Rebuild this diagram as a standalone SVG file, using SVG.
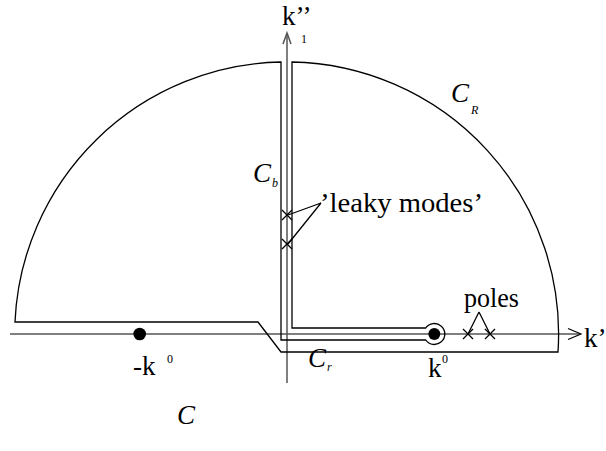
<svg xmlns="http://www.w3.org/2000/svg" width="606" height="451" viewBox="0 0 606 451">
<style>
.ln{fill:none;stroke:#000;stroke-width:1.3}
.ax{fill:none;stroke:#000;stroke-width:1.2}
.vax{fill:none;stroke:#555;stroke-width:1.5}
text{font-family:'Liberation Serif','Times New Roman',Times,serif;fill:#000}
.t{font-size:27px}
.ti{font-style:italic;font-size:27px}
.s{font-size:12px}
.si{font-style:italic;font-size:12px}
</style>
<rect width="606" height="451" fill="#fff"/>
<g id="connectors">
<path class="ax" d="M10,334 H580"/>
<path class="ax" d="M568,328.5 L581,334 L568,339.5"/>
<path class="vax" d="M287,383 V34"/>
<path class="vax" d="M283,44 L287,33 L291,44"/>
<path class="ln" d="M281,62 A272,272 0 0 0 15,322 L258,322 L281,352 L558,352 A272,272 0 0 0 292,62 L292,328 L425.7,328 A10.5,10.5 0 1 1 425.7,340 L281,340 Z"/>
<path class="ln" d="M321,203 L288,215 M321,203 L288,244"/>
<path class="ln" d="M479,312 L468,334 M479,312 L490,334"/>
</g>
<g id="leaky-mode-1"><path class="ln" d="M282,210 L292,220 M292,210 L282,220"/></g>
<g id="leaky-mode-2"><path class="ln" d="M282,239 L292,249 M292,239 L282,249"/></g>
<g id="pole-1"><path class="ln" d="M463,329 L473,339 M473,329 L463,339"/></g>
<g id="pole-2"><path class="ln" d="M485,329 L495,339 M495,329 L485,339"/></g>
<g id="minus-k0"><circle cx="139.7" cy="334" r="6.3" fill="#000"/>
<text class="t" x="133" y="375" font-family="Liberation Serif, serif">-k</text><text class="s" x="167" y="363" font-family="Liberation Serif, serif">0</text></g>
<g id="k0"><circle cx="434.3" cy="334" r="6" fill="#000"/>
<text class="t" x="428" y="377" font-family="Liberation Serif, serif">k</text><text class="s" x="442" y="363" font-family="Liberation Serif, serif">0</text></g>
<g id="axis-k1pp"><text class="t" x="282" y="25" font-family="Liberation Serif, serif">k’’</text><text class="s" x="301" y="43" font-family="Liberation Serif, serif">1</text></g>
<g id="axis-kp"><text class="t" x="584" y="347" font-family="Liberation Serif, serif">k’</text></g>
<g id="label-CR"><text class="ti" x="451" y="102" font-family="Liberation Serif, serif">C</text><text class="si" x="471" y="114" font-family="Liberation Serif, serif">R</text></g>
<g id="label-Cb"><text class="ti" x="253" y="182" font-family="Liberation Serif, serif">C</text><text class="si" x="272" y="187" font-family="Liberation Serif, serif">b</text></g>
<g id="label-Cr"><text class="ti" x="308" y="367" font-family="Liberation Serif, serif">C</text><text class="si" x="327" y="371" font-family="Liberation Serif, serif">r</text></g>
<g id="label-C"><text class="ti" x="177" y="424" font-family="Liberation Serif, serif">C</text></g>
<g id="label-leaky"><text class="t" x="320" y="212" font-family="Liberation Serif, serif" textLength="163" lengthAdjust="spacingAndGlyphs">’leaky modes’</text></g>
<g id="label-poles"><text class="t" x="464" y="307" font-family="Liberation Serif, serif" textLength="55" lengthAdjust="spacingAndGlyphs">poles</text></g>
</svg>
